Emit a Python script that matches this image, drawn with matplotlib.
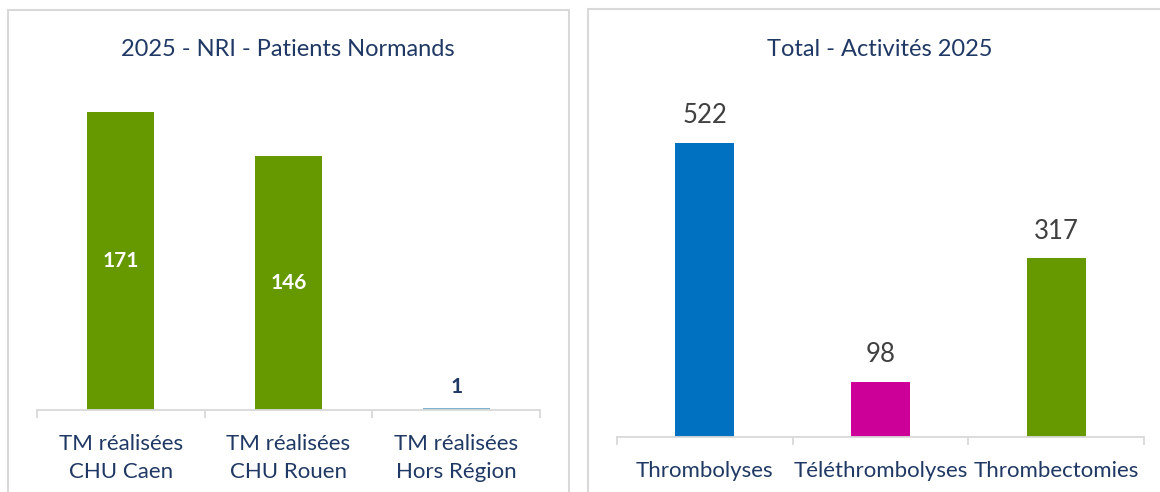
import matplotlib.pyplot as plt
from matplotlib.patches import Rectangle

# left chart: NRI - Patients Normands
nri_labels = ["TM réalisées\nCHU Caen", "TM réalisées\nCHU Rouen", "TM réalisées\nHors Région"]
nri_values = [171, 146, 1]
nri_colors = ["#669900", "#669900", "#7FB3D0"]

# right chart: Total - Activités 2025
act_labels = ["Thrombolyses", "Téléthrombolyses", "Thrombectomies"]
act_values = [522, 98, 317]
act_colors = ["#0070C0", "#CC0099", "#669900"]

NAVY = "#1F3864"
GRID = "#D9D9D9"
W, H = 1160, 492

plt.rcParams["font.family"] = ["Lato", "DejaVu Sans"]

fig = plt.figure(figsize=(W / 100, H / 100), dpi=100)


def px_axes(x0, x1, y_top, y_bottom):
    # pixel box (from top-left) -> figure axes
    return fig.add_axes([x0 / W, 1 - y_bottom / H, (x1 - x0) / W, (y_bottom - y_top) / H])


def style_axis(ax, n):
    for s in ["top", "right", "left"]:
        ax.spines[s].set_visible(False)
    ax.spines["bottom"].set_color(GRID)
    ax.spines["bottom"].set_linewidth(1.3)
    ax.set_yticks([])
    ax.set_xlim(-0.5, n - 0.5)
    ax.set_xticks([i - 0.5 for i in range(n + 1)], minor=True)
    ax.tick_params(axis="x", which="minor", length=6, width=1.3, color=GRID)
    ax.tick_params(axis="x", which="major", length=0, pad=17, labelcolor=NAVY, labelsize=16)


# panel frames
fig.patches.append(Rectangle((8 / W, -0.05), 561 / W, 1.05 - 10 / H, transform=fig.transFigure,
                             fill=False, edgecolor=GRID, linewidth=1.5))
fig.patches.append(Rectangle((588 / W, -0.05), 600 / W, 1.05 - 9 / H, transform=fig.transFigure,
                             fill=False, edgecolor=GRID, linewidth=1.5))

# left
ax1 = px_axes(37, 540, 79, 410)
x1 = range(len(nri_values))
bars = ax1.bar(x1, nri_values, width=0.4, color=nri_colors)
ax1.set_ylim(0, 190)
style_axis(ax1, len(nri_values))
ax1.set_xticks(list(x1))
ax1.set_xticklabels(nri_labels, linespacing=1.5)
for b, v in zip(bars, nri_values):
    if v > 20:
        ax1.text(b.get_x() + b.get_width() / 2, v / 2, str(v), ha="center", va="center",
                 color="white", fontsize=15, fontweight="bold")
    else:
        ax1.text(b.get_x() + b.get_width() / 2, v + 12, str(v), ha="center", va="center",
                 color=NAVY, fontsize=15, fontweight="bold")
fig.text(288 / W, 1 - 49 / H, "2025 - NRI - Patients Normands", ha="center", va="center",
         color=NAVY, fontsize=17)

# right
ax2 = px_axes(617, 1144, 99, 437)
x2 = range(len(act_values))
bars = ax2.bar(x2, act_values, width=0.335, color=act_colors)
ax2.set_ylim(0, 600)
style_axis(ax2, len(act_values))
ax2.set_xticks(list(x2))
ax2.set_xticklabels(act_labels)
for b, v in zip(bars, act_values):
    ax2.text(b.get_x() + b.get_width() / 2, v + 48, str(v), ha="center", va="center",
             color="#404040", fontsize=18.5)
fig.text(880 / W, 1 - 49 / H, "Total - Activités 2025", ha="center", va="center",
         color=NAVY, fontsize=17)

fig.savefig("out.png", dpi=100)
